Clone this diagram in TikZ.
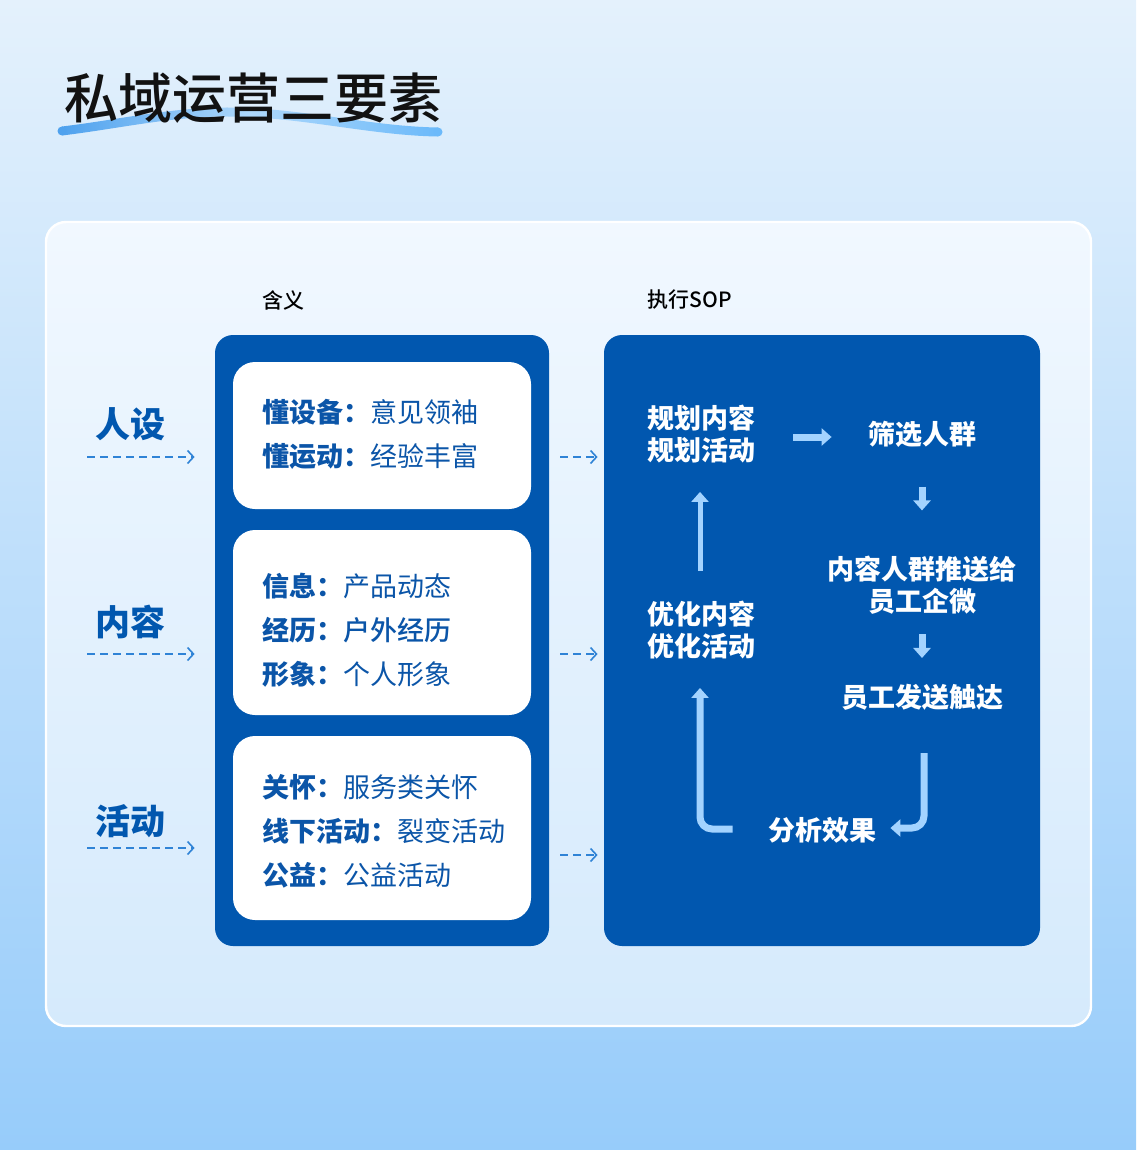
\documentclass[tikz,border=0pt]{standalone}
\usepackage{fontspec}
\newfontfamily\cjk{Noto Sans CJK SC}
\newfontfamily\cjkmed{Noto Sans CJK SC Medium}
\definecolor{bgTop}{HTML}{E4F1FC}
\definecolor{bgBottom}{HTML}{97CCFA}
\definecolor{panelTop}{HTML}{F1F8FF}
\definecolor{panelBottom}{HTML}{D5EAFC}
\definecolor{sopBlue}{HTML}{0157AF}
\definecolor{txtBlue}{HTML}{0B55A8}
\definecolor{dashBlue}{HTML}{2F83D6}
\definecolor{flowBlue}{HTML}{A3D3FF}
\definecolor{waveLeft}{HTML}{4FA2EE}
\definecolor{waveMid}{HTML}{AED8FB}
\definecolor{waveRight}{HTML}{6CBAFA}
\usepackage{tikz}
\usetikzlibrary{arrows.meta}

\begin{document}
\begin{tikzpicture}[x=0.5pt, y=-0.5pt,
                    panelbox/.style={fill=sopBlue, rounded corners=9pt, inner sep=0pt,
                                     minimum height=305.5pt},
                    infobox/.style={fill=white, rounded corners=11pt, inner sep=0pt,
                                    minimum width=149pt},
                    infotxt/.style={anchor=west, align=left, inner sep=0pt, text=txtBlue,
                                    font=\cjk\fontsize{13.5pt}{22pt}\selectfont},
                    sidelbl/.style={inner sep=0pt, text=sopBlue,
                                    font=\cjk\bfseries\fontsize{17.5pt}{20pt}\selectfont},
                    headlbl/.style={inner sep=0pt, text=black,
                                    font=\cjkmed\fontsize{10.5pt}{12pt}\selectfont},
                    flowtxt/.style={inner sep=0pt, align=center, text=white,
                                    font=\cjk\bfseries\fontsize{13.5pt}{16pt}\selectfont},
                    flowarr/.style={draw=flowBlue, line width=3.5pt,
                                    -{Triangle[length=5pt, width=8.5pt]}},
                    dasharr/.style={draw=dashBlue, line width=0.8pt, dash pattern=on 4pt off 2.5pt,
                                    -{Straight Barb[length=3pt, width=6.5pt]}}
                ]
                    % background and panel
                    \shade[top color=bgTop, bottom color=bgBottom] (0,0) rectangle (1136,1150);
                    \shadedraw[top color=panelTop, bottom color=panelBottom, draw=white,
                               line width=1.2pt, rounded corners=10pt] (46,222) rectangle (1091,1026);

                    % title with wave stroke
                    \shade[left color=waveLeft, right color=waveRight, middle color=waveMid]
                        (62,126.5) .. controls (120,119.5) and (170,107.5) .. (227,107.5)
                        .. controls (300,107.5) and (370,126.5) .. (438,127.5)
                        -- (438,136.5) .. controls (370,135.5) and (300,116.5) .. (227,116.5)
                        .. controls (170,116.5) and (120,128.5) .. (62,135.5) -- cycle;
                    \fill[waveLeft] (62,131) circle[radius=4.5];
                    \fill[waveRight] (438,132) circle[radius=4.5];
                    \node[inner sep=0pt, text=black!93, font=\cjkmed\fontsize{27pt}{30pt}\selectfont]
                        (title) at (253,98) {私域运营三要素};

                    \node[headlbl] (meaninghead) at (283,300) {含义};
                    \node[headlbl] (sophead) at (690,300) {执行SOP};

                    % left column
                    \node[panelbox, minimum width=167pt] (meaning) at (382,640.5) {};
                    \node[infobox, minimum height=73.5pt] (info1) at (382,435.5) {};
                    \node[infobox, minimum height=92.5pt] (info2) at (382,622.5) {};
                    \node[infobox, minimum height=92pt] (info3) at (382,828) {};
                    \node[infotxt] (txt1) at (262,434) {{\bfseries 懂设备：}意见领袖\\{\bfseries 懂运动：}经验丰富};
                    \node[infotxt] (txt2) at (262,630) {{\bfseries 信息：}产品动态\\{\bfseries 经历：}{\cjkmed 户外经历}\\{\bfseries 形象：}个人形象};
                    \node[infotxt] (txt3) at (262,831.5) {{\bfseries 关怀：}服务类关怀\\{\bfseries 线下活动：}裂变活动\\{\bfseries 公益：}公益活动};

                    \node[sidelbl] (persona) at (130,424) {人设};
                    \node[sidelbl] (content) at (130,622) {内容};
                    \node[sidelbl] (activity) at (130,821) {活动};

                    \coordinate (row1) at (87,457);
                    \coordinate (row2) at (87,654);
                    \coordinate (row3) at (87,848);
                    \coordinate (gap1) at (560,457);
                    \coordinate (gap2) at (560,654);
                    \coordinate (gap3) at (560,855);
                    \draw[dasharr, shorten >=10pt] (row1) -- (row1 -| meaning.west);
                    \draw[dasharr, shorten >=10pt] (row2) -- (row2 -| meaning.west);
                    \draw[dasharr, shorten >=10pt] (row3) -- (row3 -| meaning.west);

                    % right column
                    \node[panelbox, minimum width=218pt] (sop) at (822,640.5) {};
                    \draw[dasharr, shorten >=3pt] (gap1) -- (gap1 -| sop.west);
                    \draw[dasharr, shorten >=3pt] (gap2) -- (gap2 -| sop.west);
                    \draw[dasharr, shorten >=3pt] (gap3) -- (gap3 -| sop.west);

                    \node[flowtxt] (plan) at (701,434) {规划内容\\规划活动};
                    \node[flowtxt] (select) at (922,434) {筛选人群};
                    \node[flowtxt] (push) at (922,585) {内容人群推送给\\员工企微};
                    \node[flowtxt] (reach) at (922,697) {员工发送触达};
                    \node[flowtxt] (analyse) at (822,830) {分析效果};
                    \node[flowtxt] (optimise) at (701,630) {优化内容\\优化活动};

                    \draw[flowarr] ([shift={(38,3)}]plan.east) -- ([shift={(-36,3)}]select.west);
                    \draw[flowarr] ([shift={(0,39)}]select.south) -- ([shift={(0,-45)}]push.north);
                    \draw[flowarr] ([shift={(0,19.5)}]push.south) -- ([shift={(0,-25.5)}]reach.north);
                    \draw[flowarr, rounded corners=6pt] ([shift={(2,42.5)}]reach.south) |- ([shift={(14,-2)}]analyse.east);
                    \draw[flowarr, rounded corners=6pt] ([shift={(-35,-1)}]analyse.west) -| ([shift={(-1,28.5)}]optimise.south);
                    \draw[flowarr, line width=2.5pt] ([shift={(-1,-29.5)}]optimise.north) -- ([shift={(-1,28.5)}]plan.south);
                \end{tikzpicture}
\end{document}
